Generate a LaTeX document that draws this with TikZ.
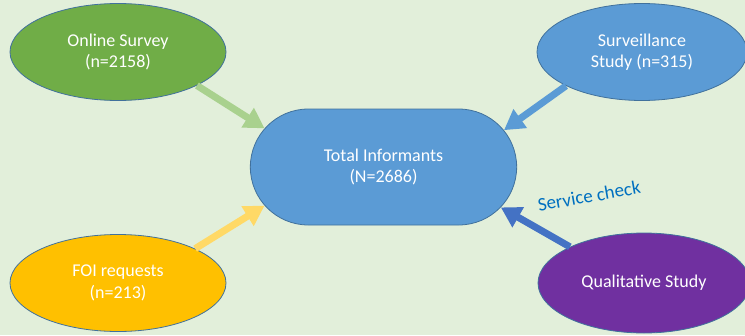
\documentclass[tikz,border=0pt]{standalone}
\usepackage{fontspec}
\setmainfont{Carlito}
\usetikzlibrary{shapes.geometric,shapes.misc,arrows.meta}
\definecolor{bg}{HTML}{E2EFDA}
\definecolor{edgeblue}{HTML}{41719C}
\definecolor{osgreen}{HTML}{70AD47}
\definecolor{survblue}{HTML}{5B9BD5}
\definecolor{foiyellow}{HTML}{FFC000}
\definecolor{qualpurple}{HTML}{7030A0}
\definecolor{arrgreen}{HTML}{A9D18E}
\definecolor{arrblue}{HTML}{5B9BD5}
\definecolor{arryellow}{HTML}{FFD966}
\definecolor{arrdark}{HTML}{4472C4}
\definecolor{labelblue}{HTML}{0070C0}
\tikzset{
  src/.style={ellipse, draw=edgeblue, line width=0.8pt, minimum width=216pt, minimum height=97pt, text=white, font=\fontsize{18}{21.5}\selectfont, align=center, inner sep=0pt},
  hub/.style={rounded rectangle, draw=edgeblue, line width=0.8pt, fill=survblue, minimum width=273pt, minimum height=116pt, text=white, font=\fontsize{18}{21.5}\selectfont, align=center},
  flow/.style={line width=7pt, -{Triangle[length=20pt,width=22pt]}}
}
\begin{document}
\begin{tikzpicture}[x=1pt,y=-1pt]
\fill[bg] (0,0) rectangle (745,335);
\useasboundingbox (0,0) rectangle (745,335);
\node[src, fill=osgreen] (os) at (118,52) {Online Survey\\(n=2158)};
\node[src, fill=survblue, minimum width=210pt] (surv) at (642,52) {Surveillance\\Study (n=315)};
\node[hub] (total) at (383.5,167) {Total Informants\\(N=2686)};
\node[src, fill=foiyellow] (foi) at (118,283) {FOI requests\\(n=213)};
\node[src, fill=qualpurple, minimum width=212pt, minimum height=100pt] (qual) at (644,283) {Qualitative Study};
\draw[flow, arrgreen] (os.-23) -- (total.162);
\draw[flow, arrblue] (surv.-156) -- (total.17);
\draw[flow, arryellow] (foi.24) -- (total.198);
\draw[flow, arrdark] (qual.154) -- (total.-19);
\node[text=labelblue, rotate=10, font=\fontsize{19}{22}\selectfont] (sc) at (589,196) {Service check};
\end{tikzpicture}
\end{document}
